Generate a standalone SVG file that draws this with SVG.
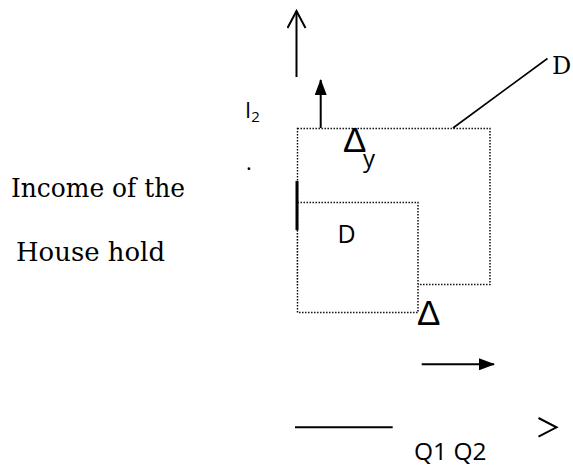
<svg xmlns="http://www.w3.org/2000/svg" width="573" height="468" viewBox="0 0 573 468">
<style>
.dot{stroke:#000;stroke-width:1.4;stroke-dasharray:1.4 1.6}
.ln{fill:none;stroke:#000;stroke-width:2}
.sans{font-family:"Open Sans","Liberation Sans",sans-serif;fill:#000}
.delta{font-family:"Liberation Sans","DejaVu Sans",sans-serif;fill:#000}
.serif{font-family:"DejaVu Serif","Liberation Serif",serif;fill:#000}
</style>
<defs>
<marker id="fill" viewBox="0 0 16 12" refX="15" refY="6" markerWidth="16" markerHeight="12" markerUnits="userSpaceOnUse" orient="auto">
<path d="M0,0 L16,6 L0,12 Z" fill="#000"/>
</marker>
<marker id="open" viewBox="0 0 20 20" refX="18" refY="10" markerWidth="20" markerHeight="20" markerUnits="userSpaceOnUse" orient="auto">
<path d="M1,1 L18,10 L1,19" fill="none" stroke="#000" stroke-width="2"/>
</marker>
</defs>
<rect width="573" height="468" fill="#fff"/>
<g id="outer-area">
<rect class="dot" x="297.5" y="128.5" width="192.5" height="156" fill="none"/>
</g>
<g id="inner-area">
<rect class="dot" x="297.5" y="202.5" width="120.5" height="110" fill="#fff"/>
<text class="sans" x="337.5" y="243" font-size="25">D</text>
</g>
<g id="connectors">
<line class="ln" x1="296.5" y1="77" x2="296.5" y2="11" marker-end="url(#open)"/>
<line class="ln" x1="320.7" y1="128" x2="320.7" y2="80" marker-end="url(#fill)"/>
<line x1="297" y1="181" x2="297" y2="230" stroke="#000" stroke-width="3"/>
<line x1="453" y1="128" x2="547.5" y2="58.5" stroke="#000" stroke-width="1.6"/>
<line class="ln" x1="421.7" y1="364.3" x2="494" y2="364.3" marker-end="url(#fill)"/>
<line class="ln" x1="295" y1="427.3" x2="392.7" y2="427.3"/>
<path class="ln" d="M538.5,418 L556.5,427.3 L538.5,436.6"/>
</g>
<g id="labels">
<text class="sans" x="245" y="118" font-size="22">I<tspan font-size="15" dy="4">2</tspan></text>
<text class="sans" x="246" y="170" font-size="22">.</text>
<text class="delta" x="343" y="152" font-size="35">Δ<tspan class="sans" font-size="24" x="363" y="167">y</tspan></text>
<text class="delta" x="417" y="325" font-size="35">Δ</text>
<text class="serif" x="552" y="74" font-size="24">D</text>
<text class="serif" x="11" y="197" font-size="26" textLength="174" lengthAdjust="spacingAndGlyphs">Income of the</text>
<text class="serif" x="16" y="261" font-size="26" textLength="149" lengthAdjust="spacingAndGlyphs">House hold</text>
<text class="sans" x="414" y="460" font-size="24.5">Q1 Q2</text>
</g>
</svg>
